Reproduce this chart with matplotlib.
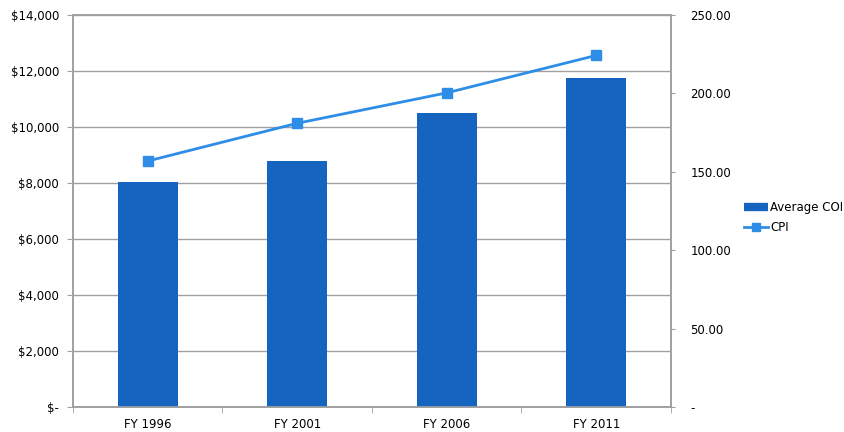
import matplotlib.pyplot as plt
import numpy as np
from matplotlib.ticker import FuncFormatter, MultipleLocator
from matplotlib.lines import Line2D

years = ['FY 1996', 'FY 2001', 'FY 2006', 'FY 2011']
avg_coi = [8050, 8780, 10510, 11740]
cpi = [156.9, 181.0, 200.4, 224.3]

bar_color = '#1565C0'
line_color = '#2E8DE6'
grid_color = '#A0A0A0'

plt.rcParams['font.family'] = ['DejaVu Sans']

fig = plt.figure(figsize=(8.44, 4.32), dpi=100)
ax = fig.add_axes([0.0865, 0.058, 0.7085, 0.907])
ax2 = ax.twinx()

x = np.arange(len(years))
ax.bar(x, avg_coi, 0.4, color=bar_color, zorder=3)
ax2.plot(x, cpi, color=line_color, linewidth=2, marker='s', markersize=7, zorder=4)

ax.set_xlim(-0.5, len(years) - 0.5)
ax.set_ylim(0, 14000)
ax2.set_ylim(0, 250)

ax.yaxis.set_major_locator(MultipleLocator(2000))
ax.yaxis.set_major_formatter(FuncFormatter(lambda v, p: '$-' if v == 0 else f'${v:,.0f}'))
ax2.yaxis.set_major_locator(MultipleLocator(50))
ax2.yaxis.set_major_formatter(FuncFormatter(lambda v, p: '-' if v == 0 else f'{v:.2f}'))

ax.grid(axis='y', color=grid_color, linewidth=1, zorder=0)
ax.set_xticks(x)
ax.set_xticklabels(years)
ax.set_xticks(np.arange(len(years) + 1) - 0.5, minor=True)
ax.tick_params(axis='x', which='major', length=0, pad=8, labelsize=8.5)
ax.tick_params(axis='x', which='minor', length=4, color=grid_color)
ax.tick_params(axis='y', length=4, color=grid_color, labelsize=8.5, pad=6)
ax2.tick_params(axis='y', length=3, color=grid_color, labelsize=8.5, pad=11)

for a in (ax, ax2):
    for s in a.spines.values():
        s.set_color(grid_color)
        s.set_linewidth(1.2)

# bar legend entry drawn as a thick short bar, like the reference
handles = [Line2D([0], [0], color=bar_color, linewidth=6, solid_capstyle='butt', label='Average COI'),
           Line2D([0], [0], color=line_color, marker='s', markersize=6, linewidth=2, label='CPI')]
fig.legend(handles=handles, loc='center left', bbox_to_anchor=(0.876, 0.497),
           frameon=False, fontsize=8.5, handlelength=2.0, handletextpad=0.2,
           labelspacing=0.6, borderaxespad=0)

fig.savefig('out.png', dpi=100)
